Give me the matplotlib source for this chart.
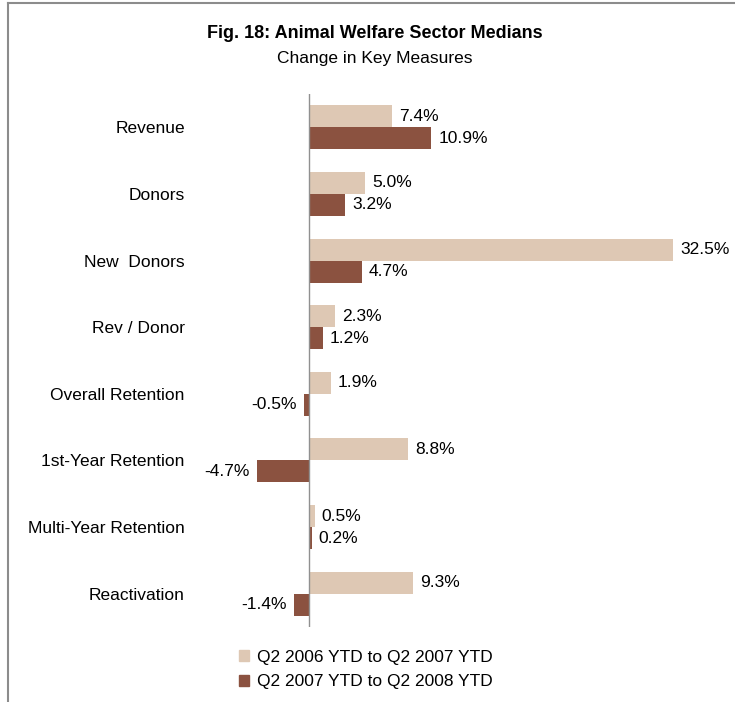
import numpy as np
import matplotlib.pyplot as plt
from matplotlib.patches import Patch
from matplotlib.lines import Line2D

plt.rcParams['font.family'] = ['Liberation Sans', 'DejaVu Sans']

# Data
measures = ["Revenue", "Donors", "New  Donors", "Rev / Donor", "Overall Retention",
            "1st-Year Retention", "Multi-Year Retention", "Reactivation"]
change_06_07 = [7.4, 5.0, 32.5, 2.3, 1.9, 8.8, 0.5, 9.3]
change_07_08 = [10.9, 3.2, 4.7, 1.2, -0.5, -4.7, 0.2, -1.4]
series_names = ["Q2 2006 YTD to Q2 2007 YTD", "Q2 2007 YTD to Q2 2008 YTD"]

light = "#dec8b4"
dark = "#8b5240"

W, H = 735, 702
fig = plt.figure(figsize=(W / 100, H / 100), dpi=100)

# axes placed in pixel terms (zero line sits at x=309)
px_per_pct = 11.2
xmin, xmax = -10.5, 34.5
x0 = 309.3 + xmin * px_per_pct
x1 = 309.3 + xmax * px_per_pct
y_top, y_bot = 94, 627
ax = fig.add_axes([x0 / W, (H - y_bot) / H, (x1 - x0) / W, (y_bot - y_top) / H])

y = np.arange(len(measures))
bh = 0.33
ax.barh(y - bh / 2, change_06_07, height=bh, color=light)
ax.barh(y + bh / 2, change_07_08, height=bh, color=dark)

ax.set_xlim(xmin, xmax)
ax.set_ylim(len(measures) - 0.5, -0.5)
ax.axvline(0, color="#909090", lw=1)

for i, (a, b) in enumerate(zip(change_06_07, change_07_08)):
    for v, yy in ((a, i - bh / 2), (b, i + bh / 2)):
        if v >= 0:
            ax.annotate(f"{v:.1f}%", (v, yy), xytext=(5, 0), textcoords="offset points",
                        ha="left", va="center", fontsize=12.5)
        else:
            ax.annotate(f"{v:.1f}%", (v, yy), xytext=(-5, 0), textcoords="offset points",
                        ha="right", va="center", fontsize=12.5)

ax.set_yticks(y)
ax.set_yticklabels(measures, fontsize=12.5)
ax.tick_params(axis="y", length=0, pad=5)
ax.set_xticks([])
for s in ax.spines.values():
    s.set_visible(False)

fig.text(375 / W, 1 - 33 / H, "Fig. 18: Animal Welfare Sector Medians", ha="center", va="center",
         fontsize=13, fontweight="bold")
fig.text(375 / W, 1 - 58 / H, "Change in Key Measures", ha="center", va="center", fontsize=12.5)

handles = [Patch(color=light), Patch(color=dark)]
fig.legend(handles, series_names, loc="upper left", bbox_to_anchor=(232 / W, 1 - 643 / H),
           frameon=False, fontsize=12.5, handlelength=0.6, handleheight=0.6,
           handletextpad=0.45, labelspacing=0.55, borderaxespad=0)

# frame lines along top and left edge
fig.add_artist(Line2D([8 / W, 1], [1 - 3 / H, 1 - 3 / H], color="#8c8c8c", lw=1.5))
fig.add_artist(Line2D([8 / W, 8 / W], [0, 1 - 3 / H], color="#8c8c8c", lw=1.5))

fig.savefig("out.png", dpi=100)
